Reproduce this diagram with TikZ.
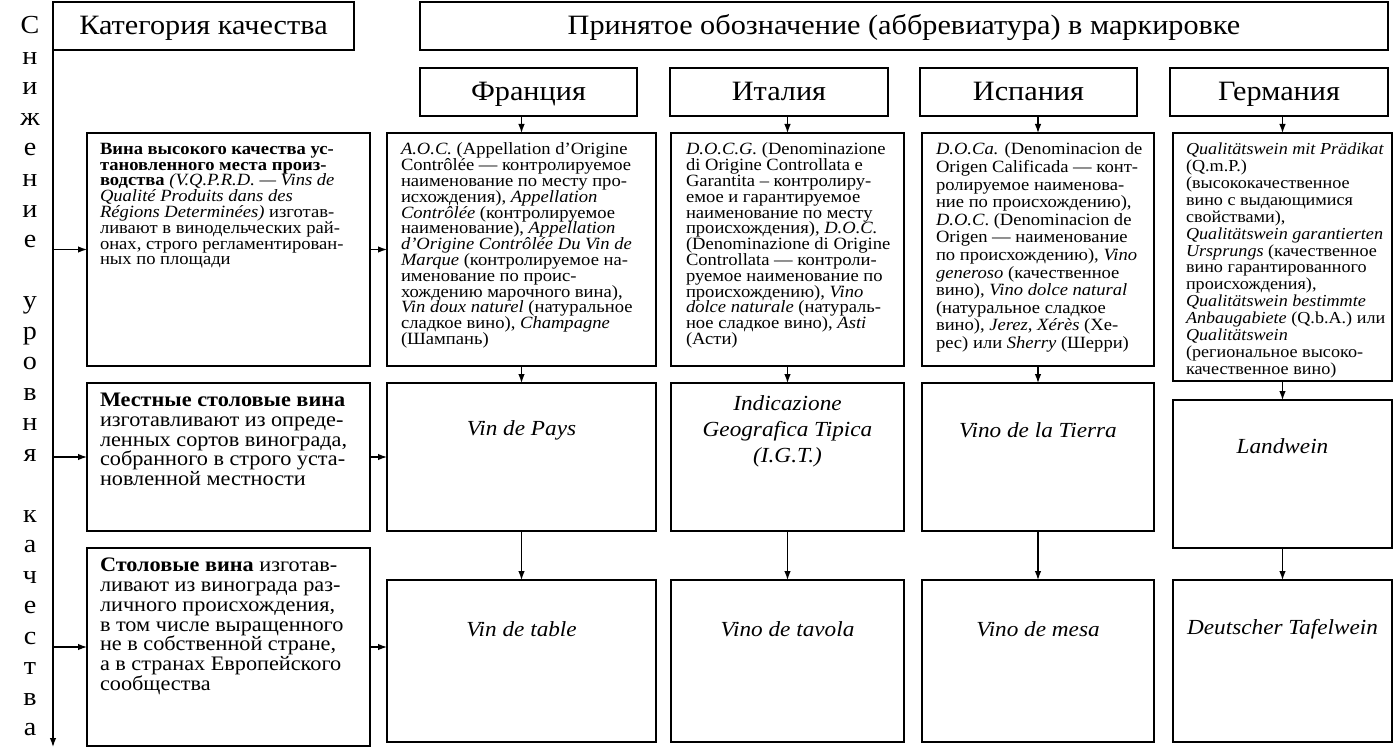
\documentclass[tikz,border=0pt]{standalone}
\usepackage{fontspec}
\setmainfont[FakeStretch=1.08]{Liberation Serif}
\usetikzlibrary{arrows.meta}
\newcommand{\mkbox}[5]{\node[box, minimum width={#4-#2}, minimum height={#5-#3}] (#1) at (#2,#3) {};}
\begin{document}
\begin{tikzpicture}[x=1pt,y=-1pt,
  box/.style={draw, line width=1.5pt, inner sep=0pt, outer sep=0pt, anchor=north west},
  txt/.style={inner sep=0pt, outer sep=0pt, anchor=north west, align=left},
  arr/.style={line width=1.2pt, -{Latex[length=9pt,width=6.5pt]}},
  hdr/.style={inner sep=0pt, anchor=base, font=\fontsize{28}{32}\selectfont},
  small/.style={font=\fontsize{17.2}{15.8}\selectfont},
  big/.style={font=\fontsize{20.6}{19.8}\selectfont},
  cen/.style={inner sep=0pt, align=center, font=\fontsize{21.5}{26}\selectfont},
  vlet/.style={inner sep=0pt, anchor=base, font=\fontsize{26}{26}\selectfont}
]
\useasboundingbox (0,0) rectangle (1395,749);
% header boxes
\mkbox{cat}{53}{2}{354}{50}
\mkbox{acc}{420}{2}{1388}{50}
\mkbox{FH}{420}{68}{637}{116}
\mkbox{IH}{670}{68}{888}{116}
\mkbox{SH}{920}{68}{1137}{116}
\mkbox{GH}{1170}{68}{1388}{116}
\node[hdr] (catT) at ([yshift=-9pt]cat.center) {Категория качества};
\node[hdr] (accT) at ([yshift=-9pt]acc.center) {Принятое обозначение (аббревиатура) в маркировке};
\node[hdr] (FHT) at ([yshift=-9pt]FH.center) {Франция};
\node[hdr] (IHT) at ([yshift=-9pt]IH.center) {Италия};
\node[hdr] (SHT) at ([yshift=-9pt]SH.center) {Испания};
\node[hdr] (GHT) at ([yshift=-9pt]GH.center) {Германия};
% row boxes
\mkbox{L1}{87}{133}{370}{366}
\mkbox{L2}{87}{383}{370}{531}
\mkbox{L3}{87}{548}{370}{746}
\mkbox{F1}{387}{133}{656}{366}
\mkbox{F2}{387}{383}{656}{531}
\mkbox{F3}{387}{580}{656}{742}
\mkbox{I1}{671}{133}{904}{366}
\mkbox{I2}{671}{383}{904}{531}
\mkbox{I3}{671}{580}{904}{742}
\mkbox{S1}{922}{133}{1154}{366}
\mkbox{S2}{922}{383}{1154}{531}
\mkbox{S3}{922}{580}{1154}{742}
\mkbox{G1}{1173}{133}{1392}{381}
\mkbox{G2}{1173}{400}{1392}{548}
\mkbox{G3}{1173}{580}{1392}{742}
% vertical label
\foreach \l/\k in {С/0,н/1,и/2,ж/3,е/4,н/5,и/6,е/7,у/9,р/10,о/11,в/12,н/13,я/14,к/16,а/17,ч/18,е/19,с/20,т/21,в/22,а/23}
  \node[vlet] (v\k) at (30,{34+\k*30.5}) {\l};
% left texts
\node[txt, small] (L1t) at (100,143) {\textbf{Вина высокого качества ус-}\\
\textbf{тановленного места произ-}\\
\textbf{водства} \textit{(V.Q.P.R.D. — Vins de}\\
\textit{Qualité Produits dans des}\\
\textit{Régions Determinées)} изготав-\\
ливают  в винодельческих рай-\\
онах, строго регламентирован-\\
ных по площади};
\node[txt, big] (L2t) at (100,393) {\textbf{Местные столовые вина}\\
изготавливают из опреде-\\
ленных сортов винограда,\\
собранного в строго уста-\\
новленной местности};
\node[txt, big] (L3t) at (100,558) {\textbf{Столовые вина} изготав-\\
ливают из винограда раз-\\
личного происхождения,\\
в том числе выращенного\\
не в собственной стране,\\
а в странах Европейского\\
сообщества};
% France
\node[txt, small] (F1t) at (401,143) {\textit{A.O.C.} (Appellation d’Origine\\
Contrôlée — контролируемое\\
наименование по месту про-\\
исхождения), \textit{Appellation}\\
\textit{Contrôlée} (контролируемое\\
наименование), \textit{Appellation}\\
\textit{d’Origine Contrôlée Du Vin de}\\
\textit{Marque} (контролируемое на-\\
именование по проис-\\
хождению марочного вина),\\
\textit{Vin doux naturel} (натуральное\\
сладкое вино), \textit{Champagne}\\
(Шампань)};
% Italy
\node[txt, small] (I1t) at (686,143) {\textit{D.O.C.G.} (Denominazione\\
di Origine Controllata e\\
Garantita – контролиру-\\
емое и гарантируемое\\
наименование по месту\\
происхождения), \textit{D.O.C.}\\
(Denominazione di Origine\\
Controllata — контроли-\\
руемое наименование по\\
происхождению), \textit{Vino}\\
\textit{dolce naturale} (натураль-\\
ное сладкое вино), \textit{Asti}\\
(Асти)};
% Spain
\node[txt, small, font=\fontsize{17.2}{17.6}\selectfont] (S1t) at (936,143) {\textit{D.O.Ca.} (Denominacion de\\
Origen Calificada — конт-\\
ролируемое наименова-\\
ние по происхождению),\\
\textit{D.O.C}. (Denominacion de\\
Origen — наименование\\
по происхождению), \textit{Vino}\\
\textit{generoso} (качественное\\
вино), \textit{Vino dolce natural}\\
(натуральное сладкое\\
вино), \textit{Jerez, Xérès} (Хе-\\
рес) или \textit{Sherry} (Шерри)};
% Germany
\node[txt, small, font=\fontsize{16.8}{16.9}\selectfont] (G1t) at (1186,143) {\textit{Qualitätswein mit Prädikat}\\
(Q.m.P.)\\
(высококачественное\\
вино с выдающимися\\
свойствами),\\
\textit{Qualitätswein garantierten}\\
\textit{Ursprungs} (качественное\\
вино гарантированного\\
происхождения),\\
\textit{Qualitätswein  bestimmte}\\
\textit{Anbaugabiete} (Q.b.A.) или\\
\textit{Qualitätswein}\\
(региональное высоко-\\
качественное вино)};
% row 2 and 3 country texts
\node[cen] (F2t) at ([yshift=-47pt]F2.north) {\textit{Vin de Pays}};
\node[cen] (I2t) at ([yshift=-48pt]I2.north) {\textit{Indicazione}\\\textit{Geografica Tipica}\\\textit{(I.G.T.)}};
\node[cen] (S2t) at ([yshift=-47pt]S2.north) {\textit{Vino de la Tierra}};
\node[cen] (G2t) at ([yshift=-46pt]G2.north) {\textit{Landwein}};
\node[cen] (F3t) at ([yshift=-49pt]F3.north) {\textit{Vin de table}};
\node[cen] (I3t) at ([yshift=-49pt]I3.north) {\textit{Vino de tavola}};
\node[cen] (S3t) at ([yshift=-49pt]S3.north) {\textit{Vino de mesa}};
\node[cen] (G3t) at ([yshift=-49pt]G3.north) {\textit{Deutscher Tafelwein}};
% axis and arrows
\coordinate (axend) at (53,747);
\draw[arr] (cat.south west) -- (axend);
\draw[arr] (cat.south west |- L1.west) -- (L1.west);
\draw[arr] (cat.south west |- L2.west) -- (L2.west);
\draw[arr] (cat.south west |- L3.west) -- (L3.west);
\draw[arr] (L1.east) -- (F1.west);
\draw[arr] (L2.east) -- (F2.west);
\draw[arr] (L3.east) -- (L3.east -| F3.west);
\draw[arr] (F1.north |- FH.south) -- (F1.north);
\draw[arr] (I1.north |- IH.south) -- (I1.north);
\draw[arr] (S1.north |- SH.south) -- (S1.north);
\draw[arr] (G1.north |- GH.south) -- (G1.north);
\draw[arr] (F1.south) -- (F2.north);
\draw[arr] (I1.south) -- (I2.north);
\draw[arr] (S1.south) -- (S2.north);
\draw[arr] (G1.south) -- (G2.north);
\draw[arr] (F2.south) -- (F3.north);
\draw[arr] (I2.south) -- (I3.north);
\draw[arr] (S2.south) -- (S3.north);
\draw[arr] (G2.south) -- (G3.north);
\end{tikzpicture}
\end{document}
